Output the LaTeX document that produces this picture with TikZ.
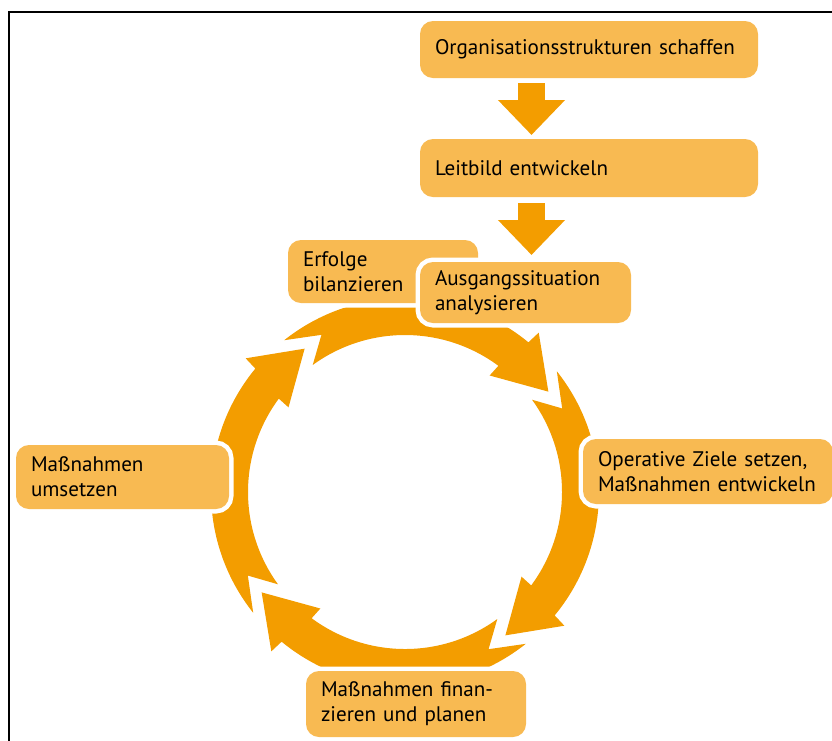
\documentclass[tikz,border=0pt]{standalone}
\usepackage{fontspec}
\setmainfont{PT Sans}
\usetikzlibrary{calc}
\usetikzlibrary{arrows.meta}

\definecolor{kasten}{RGB}{248,186,82}
\definecolor{pfeil}{RGB}{243,157,0}

\begin{document}
\begin{tikzpicture}[
		feld/.style = {rectangle, rounded corners = 0.26cm, fill = kasten, anchor = north west, align = left, outer sep = 0pt, inner xsep = 0.3cm, inner ysep = 0pt, font = \fontsize{12}{14.2}\selectfont, preaction = {draw = white, line width = 0.18cm}},
		schritt/.style = {draw = pfeil, line width = 0.54cm, -{Triangle[width = 1.3cm, length = 0.7cm]}}
	]
	\useasboundingbox (0, 0) rectangle (16.64, -14.8);
	% Rahmen
	\draw[black, line width = 0.04cm] (16.7, -0.24)--(0.18, -0.24)--(0.18, -14.9);

	% Kreislauf aus vier Pfeilen
	\begin{scope}[shift = {(8.1, -9.84)}]
		\foreach \t in {35, -55, -145, -235}
			\fill[pfeil] ({\t + 93.5}:3.88) arc[start angle = {\t + 93.5}, end angle = {\t + 15.5}, radius = 3.88]
				--({\t + 15}:4.16)--(\t:3.5)--({\t + 19}:2.88)--({\t + 18.5}:3.14)
				arc[start angle = {\t + 18.5}, end angle = {\t + 91}, radius = 3.14]
				--({\t + 83}:3.56)--cycle;
	\end{scope}

	% Kaesten
	\node[feld, text width = 6.16cm, minimum height = 1.14cm] (org) at (8.4, -0.42) {Organisationsstrukturen schaffen};
	\node[feld, text width = 6.16cm, minimum height = 1.16cm] (leit) at (8.4, -2.78) {Leitbild entwickeln};
	\node[feld, text width = 3.2cm, minimum height = 1.26cm] (erfolg) at (5.76, -4.8) {Erfolge\\bilanzieren};
	\node[feld, text width = 3.62cm, minimum height = 1.22cm] (ausgang) at (8.4, -5.24) {Ausgangssituation\\analysieren};
	\node[feld, text width = 4.4cm, minimum height = 1.3cm] (ziele) at (11.66, -8.78) {Operative Ziele setzen,\\Maßnahmen entwickeln};
	\node[feld, text width = 3.66cm, minimum height = 1.28cm] (umsetzen) at (0.32, -8.9) {Maßnahmen\\umsetzen};
	\node[feld, text width = 3.8cm, minimum height = 1.32cm] (planen) at (6.12, -13.42) {Maßnahmen finan-\\zieren und planen};

	% Pfeile nach unten
	\draw[schritt] ($(org.south west) + (2.23, -0.1)$)--($(leit.north west) + (2.23, 0.08)$);
	\draw[schritt] ($(leit.south west) + (2.23, -0.12)$)--($(ausgang.north west) + (2.23, 0.14)$);
\end{tikzpicture}
\end{document}
